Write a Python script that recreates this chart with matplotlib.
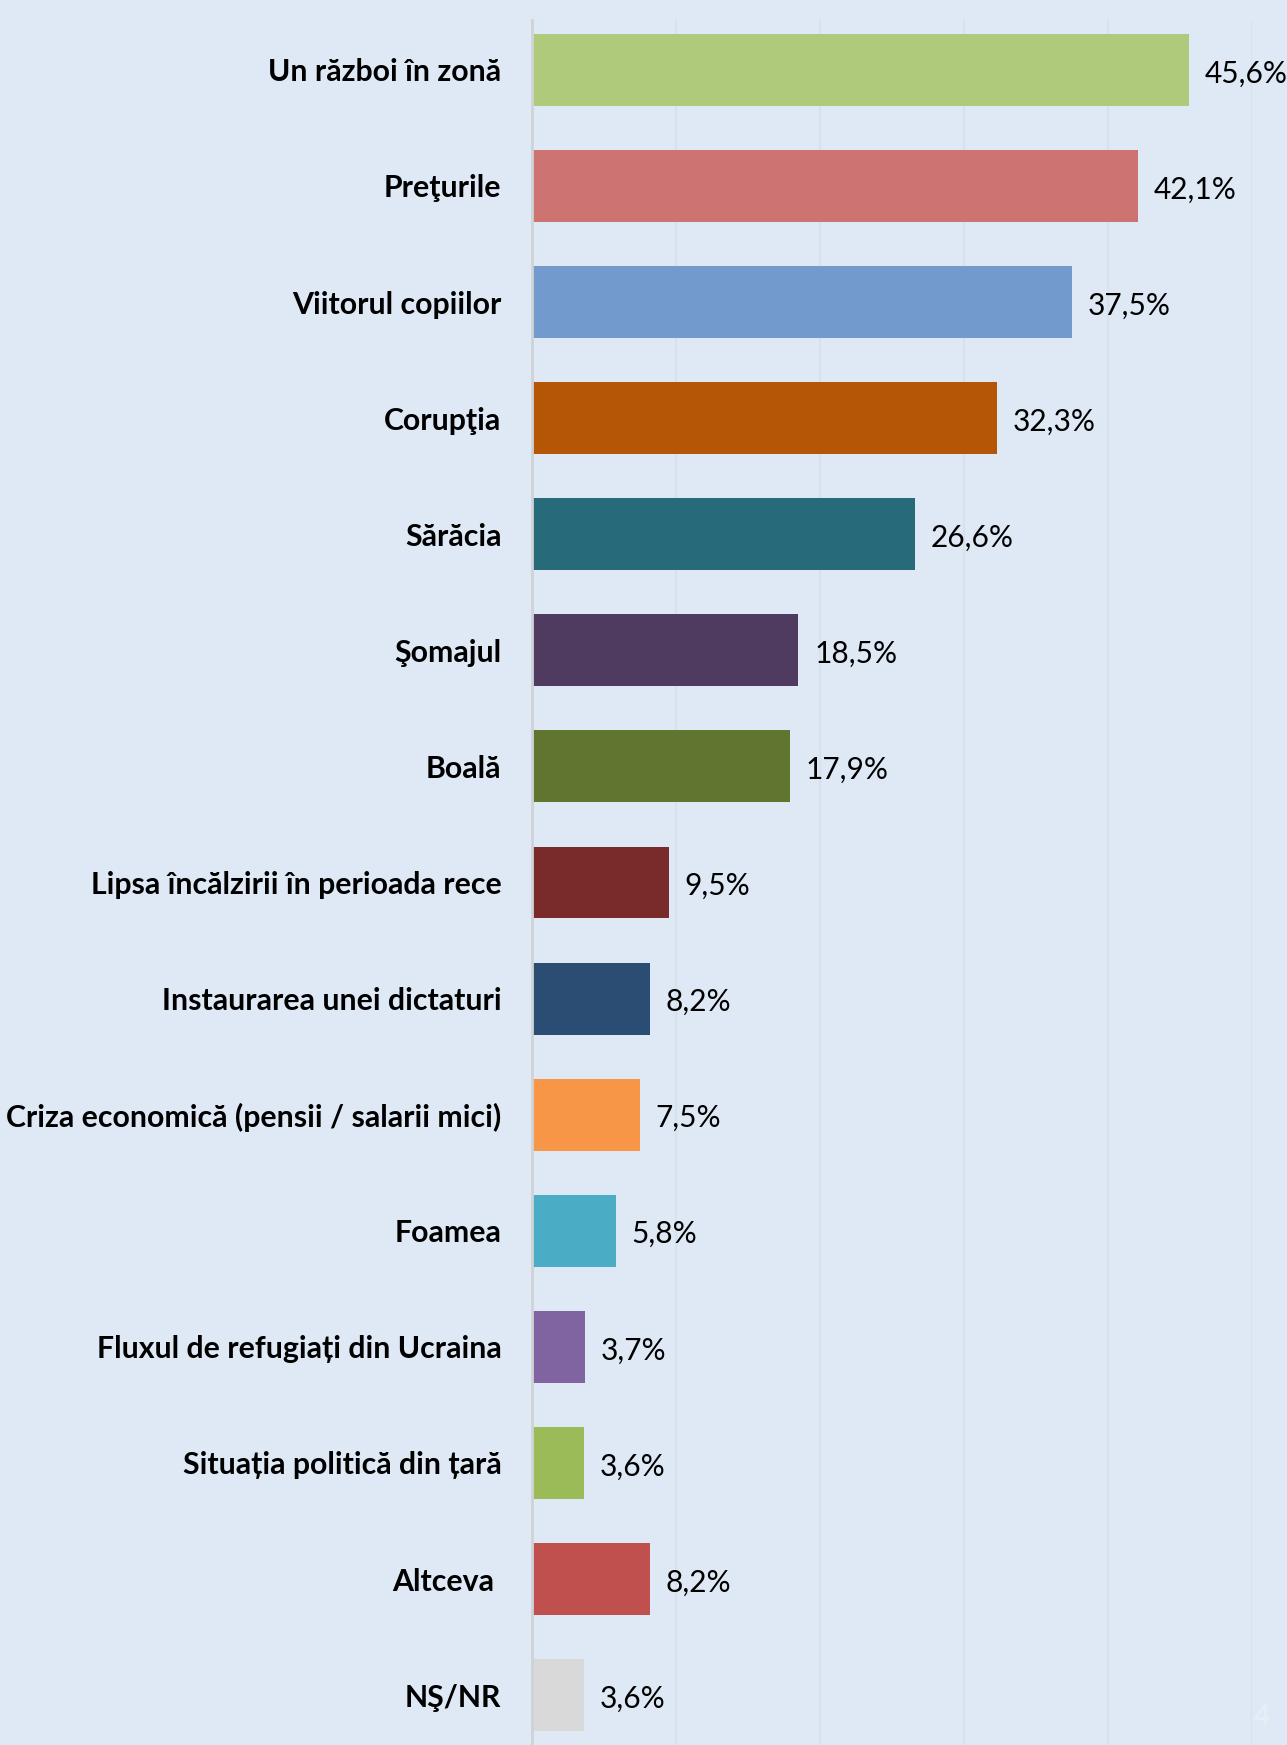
import matplotlib.pyplot as plt
import numpy as np

plt.rcParams['font.family'] = ['Lato', 'DejaVu Sans']

# date
categorii = ['Un război în zonă', 'Preţurile', 'Viitorul copiilor', 'Corupţia',
             'Sărăcia', 'Şomajul', 'Boală', 'Lipsa încălzirii în perioada rece',
             'Instaurarea unei dictaturi', 'Criza economică (pensii / salarii mici)',
             'Foamea', 'Fluxul de refugiați din Ucraina', 'Situația politică din țară',
             'Altceva ', 'NŞ/NR']
procente = [45.6, 42.1, 37.5, 32.3, 26.6, 18.5, 17.9, 9.5, 8.2, 7.5, 5.8, 3.7, 3.6, 8.2, 3.6]
culori = ['#AFCA7B', '#CD7371', '#729ACC', '#B55506', '#276B7A', '#4E3B5F', '#607530',
          '#782B2A', '#2B4D73', '#F79646', '#4BACC6', '#8064A2', '#9BBB59', '#C0504D',
          '#D9D9D9']

fundal = '#DEE9F5'
fig = plt.figure(figsize=(12.87, 17.45), dpi=100, facecolor=fundal)
ax = fig.add_axes([532 / 1287, 0, (1252 - 532) / 1287, 1 - 20 / 1745])
ax.set_facecolor(fundal)

y = np.arange(len(categorii))
ax.barh(y, procente, height=0.62, color=culori, zorder=3)

# etichete valori
for yi, v in zip(y, procente):
    ax.text(v + 1.1, yi + 0.03, f'{v:.1f}%'.replace('.', ','), va='center', ha='left',
            fontsize=21.5, color='black', clip_on=False)

ax.set_xlim(0, 50)
ax.set_ylim(len(categorii) - 0.57, -0.43)
ax.set_yticks(y)
ax.set_yticklabels(categorii, fontsize=21.8, fontweight='bold')
ax.tick_params(axis='y', length=0, pad=22)
ax.set_xticks([10, 20, 30, 40, 50])
ax.tick_params(axis='x', length=0, labelbottom=False)
ax.grid(axis='x', color='#D8E2ED', linewidth=1.5, zorder=0)

for s in ['top', 'right', 'bottom']:
    ax.spines[s].set_visible(False)
ax.spines['left'].set_color('#D0D3D6')
ax.spines['left'].set_linewidth(2)
ax.spines['left'].set_zorder(4)

# numar pagina
fig.text(1262 / 1287, 15 / 1745, '4', fontsize=20, fontweight='bold',
         color='#E6EDF5', ha='center', va='bottom')

plt.savefig('out.png', dpi=100, facecolor=fundal)
